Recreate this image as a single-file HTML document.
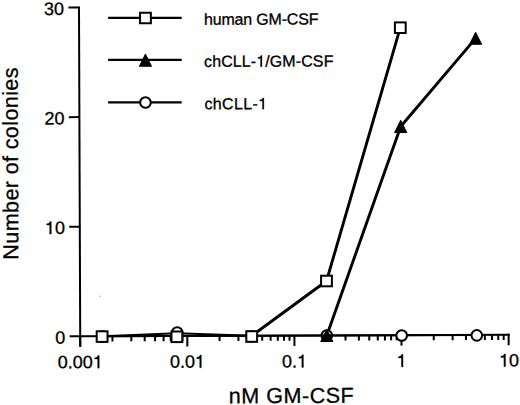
<!DOCTYPE html>
<html><head><meta charset="utf-8"><style>
html,body{margin:0;padding:0;background:#fff;}
svg{display:block;}
text{font-family:"Liberation Sans",sans-serif;text-rendering:geometricPrecision;fill:#000;stroke:#000;stroke-width:0.3px;}
.one{fill:transparent;stroke:none;}
</style></head><body>
<svg width="520" height="405" viewBox="0 0 520 405">
<rect width="520" height="405" fill="#fff"/>
<g transform="rotate(-0.21 80.2 336.3)"><g stroke="#000" stroke-width="2.0" fill="none"><line x1="80.20" y1="6.50" x2="80.20" y2="346.80"/><line x1="79.20" y1="336.30" x2="509.60" y2="336.30"/><line x1="69.60" y1="336.30" x2="80.20" y2="336.30"/><line x1="69.60" y1="226.70" x2="80.20" y2="226.70"/><line x1="69.60" y1="117.10" x2="80.20" y2="117.10"/><line x1="69.60" y1="7.50" x2="80.20" y2="7.50"/><line x1="80.20" y1="336.30" x2="80.20" y2="346.80"/><line x1="112.44" y1="336.30" x2="112.44" y2="341.50"/><line x1="131.30" y1="336.30" x2="131.30" y2="341.50"/><line x1="144.68" y1="336.30" x2="144.68" y2="341.50"/><line x1="155.06" y1="336.30" x2="155.06" y2="341.50"/><line x1="163.54" y1="336.30" x2="163.54" y2="341.50"/><line x1="170.71" y1="336.30" x2="170.71" y2="341.50"/><line x1="176.92" y1="336.30" x2="176.92" y2="341.50"/><line x1="182.40" y1="336.30" x2="182.40" y2="341.50"/><line x1="187.30" y1="336.30" x2="187.30" y2="346.80"/><line x1="219.54" y1="336.30" x2="219.54" y2="341.50"/><line x1="238.40" y1="336.30" x2="238.40" y2="341.50"/><line x1="251.78" y1="336.30" x2="251.78" y2="341.50"/><line x1="262.16" y1="336.30" x2="262.16" y2="341.50"/><line x1="270.64" y1="336.30" x2="270.64" y2="341.50"/><line x1="277.81" y1="336.30" x2="277.81" y2="341.50"/><line x1="284.02" y1="336.30" x2="284.02" y2="341.50"/><line x1="289.50" y1="336.30" x2="289.50" y2="341.50"/><line x1="294.40" y1="336.30" x2="294.40" y2="346.80"/><line x1="326.64" y1="336.30" x2="326.64" y2="341.50"/><line x1="345.50" y1="336.30" x2="345.50" y2="341.50"/><line x1="358.88" y1="336.30" x2="358.88" y2="341.50"/><line x1="369.26" y1="336.30" x2="369.26" y2="341.50"/><line x1="377.74" y1="336.30" x2="377.74" y2="341.50"/><line x1="384.91" y1="336.30" x2="384.91" y2="341.50"/><line x1="391.12" y1="336.30" x2="391.12" y2="341.50"/><line x1="396.60" y1="336.30" x2="396.60" y2="341.50"/><line x1="401.50" y1="336.30" x2="401.50" y2="346.80"/><line x1="433.74" y1="336.30" x2="433.74" y2="341.50"/><line x1="452.60" y1="336.30" x2="452.60" y2="341.50"/><line x1="465.98" y1="336.30" x2="465.98" y2="341.50"/><line x1="476.36" y1="336.30" x2="476.36" y2="341.50"/><line x1="484.84" y1="336.30" x2="484.84" y2="341.50"/><line x1="492.01" y1="336.30" x2="492.01" y2="341.50"/><line x1="498.22" y1="336.30" x2="498.22" y2="341.50"/><line x1="503.70" y1="336.30" x2="503.70" y2="341.50"/><line x1="508.60" y1="335.30" x2="508.60" y2="346.80"/></g>
<g><text id="y0" x="65.30" y="343.60" font-size="18" text-anchor="end"  >0</text><text id="y10" x="65.30" y="234.00" font-size="18" text-anchor="end"  ><tspan class="one">1</tspan>0</text><path d="M51.73,221.35 L50.45,221.35 C50.16,222.48 49.37,223.45 47.09,223.70 L47.09,224.89 L50.07,224.89 L50.07,234.00 L51.73,234.00 Z" fill="#000" stroke="#000" stroke-width="0.3"/><text id="y20" x="65.30" y="124.40" font-size="18" text-anchor="end"  >20</text><text id="y30" x="65.30" y="14.80" font-size="18" text-anchor="end"  >30</text><text id="x0.001" x="80.20" y="368.20" font-size="18" text-anchor="middle"  >0.00<tspan class="one">1</tspan></text><path d="M99.18,355.55 L97.90,355.55 C97.61,356.68 96.82,357.65 94.53,357.90 L94.53,359.09 L97.52,359.09 L97.52,368.20 L99.18,368.20 Z" fill="#000" stroke="#000" stroke-width="0.3"/><text id="x0.01" x="187.30" y="368.20" font-size="18" text-anchor="middle"  >0.0<tspan class="one">1</tspan></text><path d="M201.27,355.55 L199.99,355.55 C199.70,356.68 198.91,357.65 196.63,357.90 L196.63,359.09 L199.61,359.09 L199.61,368.20 L201.27,368.20 Z" fill="#000" stroke="#000" stroke-width="0.3"/><text id="x0.1" x="294.40" y="368.20" font-size="18" text-anchor="middle"  >0.<tspan class="one">1</tspan></text><path d="M303.36,355.55 L302.08,355.55 C301.80,356.68 301.00,357.65 298.72,357.90 L298.72,359.09 L301.71,359.09 L301.71,368.20 L303.36,368.20 Z" fill="#000" stroke="#000" stroke-width="0.3"/><text id="x1" x="401.50" y="368.20" font-size="18" text-anchor="middle"  ><tspan class="one">1</tspan></text><path d="M402.95,355.55 L401.68,355.55 C401.39,356.68 400.60,357.65 398.31,357.90 L398.31,359.09 L401.30,359.09 L401.30,368.20 L402.95,368.20 Z" fill="#000" stroke="#000" stroke-width="0.3"/><text id="x10" x="509.00" y="368.20" font-size="18" text-anchor="middle"  ><tspan class="one">1</tspan>0</text><path d="M505.45,355.55 L504.17,355.55 C503.88,356.68 503.09,357.65 500.80,357.90 L500.80,359.09 L503.79,359.09 L503.79,368.20 L505.45,368.20 Z" fill="#000" stroke="#000" stroke-width="0.3"/></g></g>
<line x1="102.10" y1="336.32" x2="177.20" y2="333.25" stroke="#000" stroke-width="2.1" stroke-linecap="round"/>
<line x1="177.20" y1="333.25" x2="251.70" y2="335.77" stroke="#000" stroke-width="2.1" stroke-linecap="round"/>
<line x1="251.70" y1="335.77" x2="326.80" y2="335.50" stroke="#000" stroke-width="2.1" stroke-linecap="round"/>
<line x1="326.80" y1="335.50" x2="401.70" y2="335.22" stroke="#000" stroke-width="2.1" stroke-linecap="round"/>
<line x1="401.70" y1="335.22" x2="476.80" y2="334.95" stroke="#000" stroke-width="2.1" stroke-linecap="round"/>
<line x1="326.80" y1="335.50" x2="400.70" y2="126.50" stroke="#000" stroke-width="2.9" stroke-linecap="round"/>
<line x1="400.70" y1="126.50" x2="475.60" y2="38.35" stroke="#000" stroke-width="2.9" stroke-linecap="round"/>
<line x1="102.10" y1="336.32" x2="176.90" y2="336.05" stroke="#000" stroke-width="2.1" stroke-linecap="round"/>
<line x1="176.90" y1="336.05" x2="251.70" y2="335.77" stroke="#000" stroke-width="2.1" stroke-linecap="round"/>
<line x1="251.70" y1="335.77" x2="326.50" y2="281.00" stroke="#000" stroke-width="2.9" stroke-linecap="round"/>
<line x1="326.50" y1="281.00" x2="400.30" y2="27.70" stroke="#000" stroke-width="2.9" stroke-linecap="round"/>
<circle cx="102.10" cy="336.60" r="5.3" fill="#fff" stroke="#000" stroke-width="2"/>
<circle cx="177.20" cy="332.45" r="5.3" fill="#fff" stroke="#000" stroke-width="2"/>
<circle cx="251.70" cy="336.50" r="5.3" fill="#fff" stroke="#000" stroke-width="2"/>
<circle cx="326.80" cy="335.45" r="5.3" fill="#fff" stroke="#000" stroke-width="2"/>
<circle cx="401.70" cy="335.45" r="5.3" fill="#fff" stroke="#000" stroke-width="2"/>
<circle cx="476.80" cy="335.35" r="5.3" fill="#fff" stroke="#000" stroke-width="2"/>
<path d="M326.80,329.70 L332.75,341.50 L320.85,341.50 Z" fill="#000" stroke="#000" stroke-width="1.1" stroke-linejoin="round"/>
<path d="M400.70,120.60 L406.65,132.40 L394.75,132.40 Z" fill="#000" stroke="#000" stroke-width="1.1" stroke-linejoin="round"/>
<path d="M475.60,32.45 L481.55,44.25 L469.65,44.25 Z" fill="#000" stroke="#000" stroke-width="1.1" stroke-linejoin="round"/>
<rect x="96.70" y="331.30" width="10.8" height="10.6" fill="#fff" stroke="#000" stroke-width="2"/>
<rect x="171.50" y="331.50" width="10.8" height="10.6" fill="#fff" stroke="#000" stroke-width="2"/>
<rect x="246.30" y="331.20" width="10.8" height="10.6" fill="#fff" stroke="#000" stroke-width="2"/>
<rect x="321.10" y="275.70" width="10.8" height="10.6" fill="#fff" stroke="#000" stroke-width="2"/>
<rect x="394.90" y="22.40" width="10.8" height="10.6" fill="#fff" stroke="#000" stroke-width="2"/>
<ellipse cx="100" cy="296.3" rx="1.3" ry="0.7" fill="#c8c8c8"/>
<line x1="321.30" y1="335.50" x2="332.30" y2="335.50" stroke="#000" stroke-width="2.2"/>
<g transform="rotate(-0.21 80.2 336.3)"><text id="xl" x="291.05" y="403.77" font-size="21.6" text-anchor="middle" textLength="125.07" lengthAdjust="spacing" >nM GM-CSF</text>
<text id="yl" x="0.00" y="0.00" font-size="21.6" text-anchor="middle" textLength="192.15" lengthAdjust="spacing" transform="translate(18.63,163.37) rotate(-90)">Number of colonies</text><line x1="109.27" y1="17.95" x2="182.87" y2="18.22" stroke="#000" stroke-width="2.1"/>
<rect x="141.22" y="12.94" width="10.8" height="10.6" fill="#fff" stroke="#000" stroke-width="2"/>
<text id="leg0" x="205.14" y="25.31" font-size="16" text-anchor="start" textLength="114.47" lengthAdjust="spacing" >human GM-CSF</text>
<line x1="109.11" y1="60.00" x2="182.71" y2="60.27" stroke="#000" stroke-width="2.1"/>
<path d="M146.46,54.59 L152.41,66.39 L140.51,66.39 Z" fill="#000" stroke="#000" stroke-width="1.1" stroke-linejoin="round"/>
<text id="leg1" x="205.09" y="67.36" font-size="16" text-anchor="start" textLength="129.33" lengthAdjust="spacing" >chCLL-<tspan class="one">1</tspan>/GM-CSF</text><path d="M263.01,56.11 L261.88,56.11 C261.62,57.12 260.92,57.98 258.89,58.21 L258.89,59.26 L261.54,59.26 L261.54,67.36 L263.01,67.36 Z" fill="#000" stroke="#000" stroke-width="0.3"/>
<line x1="108.96" y1="102.45" x2="182.56" y2="102.72" stroke="#000" stroke-width="2.1"/>
<circle cx="146.31" cy="102.69" r="5.3" fill="#fff" stroke="#000" stroke-width="2"/>
<text id="leg2" x="205.23" y="109.81" font-size="16" text-anchor="start" textLength="62.68" lengthAdjust="spacing" >chCLL-<tspan class="one">1</tspan></text><path d="M264.75,98.56 L263.61,98.56 C263.36,99.57 262.65,100.43 260.62,100.66 L260.62,101.71 L263.28,101.71 L263.28,109.81 L264.75,109.81 Z" fill="#000" stroke="#000" stroke-width="0.3"/></g>
</svg>
</body></html>
